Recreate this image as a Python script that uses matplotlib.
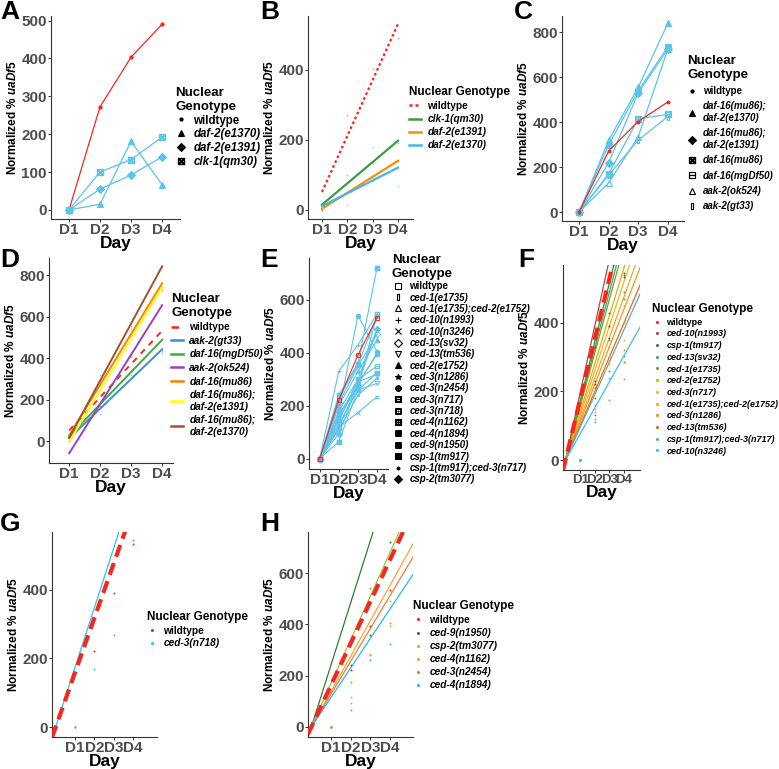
import matplotlib.pyplot as plt
import numpy as np
from matplotlib.lines import Line2D
from matplotlib.path import Path

# ──── DATA ───────────────────────────────────────────────────────────────────

days = ["D1", "D2", "D3", "D4"]
day_x = np.array([1, 2, 3, 4])

# panel A / B : insulin signalling mutants
genos_a = ["wildtype", "daf-2(e1370)", "daf-2(e1391)", "clk-1(qm30)"]
vals_a = {
    "wildtype": [0, 272, 403, 490],
    "daf-2(e1370)": [0, 15, 181, 67],
    "daf-2(e1391)": [0, 55, 92, 140],
    "clk-1(qm30)": [0, 100, 133, 192],
}
genos_b = ["wildtype", "clk-1(qm30)", "daf-2(e1391)", "daf-2(e1370)"]

# panel C / D : daf-16 and aak-2 mutants
genos_c = ["wildtype", "daf-16(mu86);\ndaf-2(e1370)", "daf-16(mu86);\ndaf-2(e1391)",
           "daf-16(mu86)", "daf-16(mgDf50)", "aak-2(ok524)", "aak-2(gt33)"]
vals_c = {
    "wildtype": [0, 272, 403, 490],
    "daf-16(mu86);\ndaf-2(e1370)": [0, 320, 555, 840],
    "daf-16(mu86);\ndaf-2(e1391)": [0, 220, 530, 725],
    "daf-16(mu86)": [0, 300, 540, 735],
    "daf-16(mgDf50)": [0, 170, 415, 435],
    "aak-2(ok524)": [0, 130, 335, 725],
    "aak-2(gt33)": [0, 165, 320, 425],
}
genos_d = ["wildtype", "aak-2(gt33)", "daf-16(mgDf50)", "aak-2(ok524)", "daf-16(mu86)",
           "daf-16(mu86);\ndaf-2(e1391)", "daf-16(mu86);\ndaf-2(e1370)"]

# panel E : apoptosis / engulfment mutants
genos_e = ["wildtype", "ced-1(e1735)", "ced-1(e1735);ced-2(e1752)", "ced-10(n1993)",
           "ced-10(n3246)", "ced-13(sv32)", "ced-13(tm536)", "ced-2(e1752)", "ced-3(n1286)",
           "ced-3(n2454)", "ced-3(n717)", "ced-3(n718)", "ced-4(n1162)", "ced-4(n1894)",
           "ced-9(n1950)", "csp-1(tm917)", "csp-1(tm917);ced-3(n717)", "csp-2(tm3077)"]
vals_e = {
    "wildtype": [0, 222, 392, 533],
    "ced-1(e1735)": [0, 180, 300, 490],
    "ced-1(e1735);ced-2(e1752)": [0, 150, 280, 400],
    "ced-10(n1993)": [0, 330, 430, 547],
    "ced-10(n3246)": [0, 120, 175, 235],
    "ced-13(sv32)": [0, 210, 350, 470],
    "ced-13(tm536)": [0, 130, 260, 285],
    "ced-2(e1752)": [0, 200, 330, 450],
    "ced-3(n1286)": [0, 160, 290, 320],
    "ced-3(n2454)": [0, 176, 541, 405],
    "ced-3(n717)": [0, 140, 300, 350],
    "ced-3(n718)": [0, 170, 270, 545],
    "ced-4(n1162)": [0, 115, 285, 395],
    "ced-4(n1894)": [0, 65, 260, 325],
    "ced-9(n1950)": [0, 240, 360, 722],
    "csp-1(tm917)": [0, 230, 355, 540],
    "csp-1(tm917);ced-3(n717)": [0, 110, 240, 305],
    "csp-2(tm3077)": [0, 95, 280, 490],
}

# panels F, G, H : fitted slopes (per day)
genos_f = ["wildtype", "ced-10(n1993)", "csp-1(tm917)", "ced-13(sv32)", "ced-1(e1735)",
           "ced-2(e1752)", "ced-3(n717)", "ced-1(e1735);ced-2(e1752)", "ced-3(n1286)",
           "ced-13(tm536)", "csp-1(tm917);ced-3(n717)", "ced-10(n3246)"]
slopes_f = [176, 195, 172, 163, 156, 140, 130, 119, 110, 100, 95, 76]
genos_g = ["wildtype", "ced-3(n718)"]
slopes_g = [159, 174]
genos_h = ["wildtype", "ced-9(n1950)", "csp-2(tm3077)", "ced-4(n1162)", "ced-3(n2454)", "ced-4(n1894)"]
slopes_h = [163, 242, 170, 138, 128, 115]

# ──── PLOT SETTINGS ──────────────────────────────────────────────────────────

plt.rcParams.update(
    {
        "font.family": ["Liberation Sans", "DejaVu Sans"],
        "mathtext.fontset": "custom",
        "mathtext.rm": "Liberation Sans:bold",
        "mathtext.it": "Liberation Sans:bold:italic",
        "mathtext.fallback": "stix",
    }
)
RED = "#F8261F"
BLUE = "#5BC4E8"
GRAY = "#4D4D4D"

col_b = {"wildtype": RED, "clk-1(qm30)": "#3E9B45", "daf-2(e1391)": "#FF8C00", "daf-2(e1370)": "#3DB8EA"}
col_d = ["#F8261F", "#3A8FD0", "#3FAA3F", "#9B3FBF", "#FF7F0E", "#FFFF00", "#A0522D"]
col_f = ["#F8261F", "#B5443A", "#2E8B3E", "#3FA86A", "#7F9A2E", "#D9B200", "#F2B035",
         "#F5A623", "#F39420", "#E8681A", "#6FA8A0", "#33C3F0"]
col_g = ["#F8261F", "#33C3F0"]
col_h = ["#F8261F", "#2E7D32", "#9ACD32", "#FFA040", "#F08030", "#29B6F6"]

tallbox = Path([(-0.45, -1), (0.45, -1), (0.45, 1), (-0.45, 1), (-0.45, -1)],
               [Path.MOVETO, Path.LINETO, Path.LINETO, Path.LINETO, Path.CLOSEPOLY])
mk_a = {"wildtype": (".", True), "daf-2(e1370)": ("^", True), "daf-2(e1391)": ("D", True),
        "clk-1(qm30)": (r"$\boxtimes$", True)}
mk_c = {"wildtype": (".", True), "daf-16(mu86);\ndaf-2(e1370)": ("^", True),
        "daf-16(mu86);\ndaf-2(e1391)": ("D", True), "daf-16(mu86)": (r"$\boxtimes$", True),
        "daf-16(mgDf50)": (r"$\boxminus$", True), "aak-2(ok524)": ("^", False),
        "aak-2(gt33)": (tallbox, False)}
mk_e = {"wildtype": ("s", False), "ced-1(e1735)": (tallbox, False),
        "ced-1(e1735);ced-2(e1752)": ("^", False), "ced-10(n1993)": ("+", True),
        "ced-10(n3246)": ("x", True), "ced-13(sv32)": ("D", False), "ced-13(tm536)": ("v", False),
        "ced-2(e1752)": ("^", True), "ced-3(n1286)": ("*", True), "ced-3(n2454)": (r"$\oplus$", True),
        "ced-3(n717)": (r"$\boxminus$", True), "ced-3(n718)": (r"$\boxdot$", True),
        "ced-4(n1162)": (r"$\boxplus$", True), "ced-4(n1894)": (r"$\boxtimes$", True),
        "ced-9(n1950)": (r"$\boxtimes$", True), "csp-1(tm917)": ("s", True),
        "csp-1(tm917);ced-3(n717)": (".", True), "csp-2(tm3077)": ("D", True)}

W, H = 779, 769
fig = plt.figure(figsize=(W / 100, H / 100), dpi=100)


def px_axes(x0, y0, x1, y1):
    return fig.add_axes([x0 / W, 1 - y1 / H, (x1 - x0) / W, (y1 - y0) / H])


def style(ax, xlim, ylim, yticks, xsize=11):
    ax.set_xlim(*xlim)
    ax.set_ylim(*ylim)
    ax.set_xticks(day_x)
    ax.set_xticklabels(days)
    ax.set_yticks(yticks)
    for s in ["top", "right"]:
        ax.spines[s].set_visible(False)
    for s in ["left", "bottom"]:
        ax.spines[s].set_color("#333333")
        ax.spines[s].set_linewidth(0.8)
    ax.tick_params(colors="#333333", labelcolor=GRAY, labelsize=11, length=2, width=0.7, pad=1)
    ax.tick_params(axis="x", labelsize=xsize)
    for t in ax.get_xticklabels() + ax.get_yticklabels():
        t.set_fontweight("bold")
    ax.set_xlabel("Day", fontsize=12.5, fontweight="bold", labelpad=-1)
    ax.set_ylabel(r"Normalized % $\mathit{uaDf5}$", fontsize=8.5, fontweight="bold", labelpad=2)


def legend(ax, handles, labels, x, y, title, size=7.5, tsize=8.5, spacing=0.25, hlen=1.2):
    leg = ax.legend(handles, labels, loc="upper left", bbox_to_anchor=(x / W, 1 - y / H),
                    bbox_transform=fig.transFigure, frameon=False, title=title,
                    prop={"size": size, "weight": "bold", "style": "italic"},
                    title_fontproperties={"size": tsize, "weight": "bold"},
                    borderpad=0, borderaxespad=0, handlelength=hlen, handletextpad=0.6,
                    labelspacing=spacing)
    leg._legend_box.align = "left"
    for t in leg.get_texts():
        if t.get_text() == "wildtype":
            t.set_fontstyle("normal")
    return leg


def shape_handle(m, filled, ms=4.5):
    return Line2D([], [], color="black", marker=m, linestyle="none", markersize=ms,
                  markerfacecolor="black" if filled else "none", markeredgewidth=0.8)


def letter(x, y, s):
    fig.text(x / W, 1 - y / H, s, fontsize=19, fontweight="bold", va="top", ha="left")


# ──── A : raw trajectories ───────────────────────────────────────────────────
ax = px_axes(51, 16, 180, 219)
for g in genos_a:
    c = RED if g == "wildtype" else BLUE
    m, filled = mk_a[g]
    ax.plot(day_x, vals_a[g], color=c, lw=0.9, marker=m, markersize=4.5,
            markerfacecolor=c if filled else "none", markeredgewidth=0.8)
style(ax, (0.42, 4.58), (-24, 512), [0, 100, 200, 300, 400, 500])
legend(ax, [shape_handle(*mk_a[g]) for g in genos_a], genos_a, 175, 87, "Nuclear\nGenotype",
       size=8.3, tsize=9.5, spacing=0.15, hlen=1.0)
letter(0, 0, "A")

# ──── B : linear fits ────────────────────────────────────────────────────────
ax = px_axes(308, 16, 413, 219)
handles = []
for g in genos_b:
    fit = np.polyfit(day_x, vals_a[g], 1)
    ls = (0, (1.2, 1.2)) if g == "wildtype" else "-"
    ax.plot(day_x, np.polyval(fit, day_x), color=col_b[g], lw=1.6, linestyle=ls)
    ax.scatter(day_x, vals_a[g], s=1.5, color=col_b[g], alpha=0.5, lw=0)
    handles.append(Line2D([], [], color=col_b[g], lw=1.8, linestyle=ls))
style(ax, (0.45, 4.59), (-26, 554), [0, 200, 400])
legend(ax, handles, genos_b, 409, 86, "Nuclear Genotype", size=7.3, spacing=0.3)
letter(260, 0, "B")

# ──── C : raw trajectories ───────────────────────────────────────────────────
ax = px_axes(562, 16, 684, 221)
for g in genos_c[1:] + genos_c[:1]:
    c = RED if g == "wildtype" else BLUE
    m, filled = mk_c[g]
    ax.plot(day_x, vals_c[g], color=c, lw=0.9, marker=m, markersize=4,
            markerfacecolor=c if filled else "none", markeredgewidth=0.8)
style(ax, (0.42, 4.55), (-40, 873), [0, 200, 400, 600, 800])
legend(ax, [shape_handle(*mk_c[g]) for g in genos_c], genos_c, 687, 55, "Nuclear\nGenotype",
       size=7.0, tsize=9.5, spacing=0.55, hlen=1.0)
letter(514, 0, "C")

# ──── D : linear fits ────────────────────────────────────────────────────────
ax = px_axes(49, 258, 173, 463)
handles = []
for g, c in zip(genos_d, col_d):
    fit = np.polyfit(day_x, vals_c[g], 1)
    ls = (0, (3, 3)) if g == "wildtype" else "-"
    ax.plot(day_x, np.polyval(fit, day_x), color=c, lw=1.4, linestyle=ls)
    ax.scatter(day_x, vals_c[g], s=1.5, color=c, alpha=0.5, lw=0)
    handles.append(Line2D([], [], color=c, lw=1.8, linestyle=ls))
style(ax, (0.35, 4.35), (-106, 882), [0, 200, 400, 600, 800])
legend(ax, handles, genos_d, 171, 293, "Nuclear\nGenotype", size=7.3, tsize=9.5, spacing=0.35)
letter(0, 248, "D")

# ──── E : raw trajectories ───────────────────────────────────────────────────
ax = px_axes(309, 258, 388, 469)
for g in genos_e[1:] + genos_e[:1]:
    c = RED if g == "wildtype" else BLUE
    m, filled = mk_e[g]
    ax.plot(day_x, vals_e[g], color=c, lw=0.8, marker=m, markersize=3.3,
            markerfacecolor=c if filled else "none", markeredgewidth=0.7)
style(ax, (0.45, 4.57), (-38, 758), [0, 200, 400, 600])
legend(ax, [shape_handle(*mk_e[g], ms=4) for g in genos_e], genos_e, 392, 254, "Nuclear\nGenotype",
       size=7.0, tsize=9.5, spacing=0.14)
letter(260, 248, "E")


# ──── F, G, H : fits through origin ──────────────────────────────────────────
def fit_panel(ax, genos, slopes, colors, xlim):
    xs = np.array(xlim)
    handles = []
    for g, b, c in zip(genos, slopes, colors):
        if g == "wildtype":
            ax.plot(xs, b * xs, color=c, lw=3, linestyle=(0, (3, 1.6)), zorder=3)
        else:
            ax.plot(xs, b * xs, color=c, lw=0.9)
        ax.scatter(day_x, vals_e[g], s=2, color=c, lw=0, zorder=4)
        handles.append(Line2D([], [], color=c, marker=".", markersize=2.5, linestyle="none"))
    return handles


ax = px_axes(563, 265, 640, 470)
hf = fit_panel(ax, genos_f, slopes_f, col_f, (-0.17, 5.1))
style(ax, (-0.17, 5.1), (-29, 569), [0, 200, 400], xsize=9.5)
legend(ax, hf, genos_f, 652, 303, "Nuclear Genotype", size=6.5, spacing=0.3, hlen=1.0)
letter(518, 248, "F")

ax = px_axes(52, 532, 157, 737)
hg = fit_panel(ax, genos_g, slopes_g, col_g, (-0.19, 5.24))
style(ax, (-0.19, 5.24), (-29, 569), [0, 200, 400])
legend(ax, hg, genos_g, 147, 611, "Nuclear Genotype", size=7.3, spacing=0.25, hlen=1.0)
letter(0, 512, "G")

ax = px_axes(308, 532, 413, 737)
hh = fit_panel(ax, genos_h, slopes_h, col_h, (-0.17, 5.17))
style(ax, (-0.17, 5.17), (-39, 760), [0, 200, 400, 600])
legend(ax, hh, genos_h, 413, 600, "Nuclear Genotype", size=7.3, spacing=0.3, hlen=1.0)
letter(260, 512, "H")

fig.savefig("out.png", dpi=100)
